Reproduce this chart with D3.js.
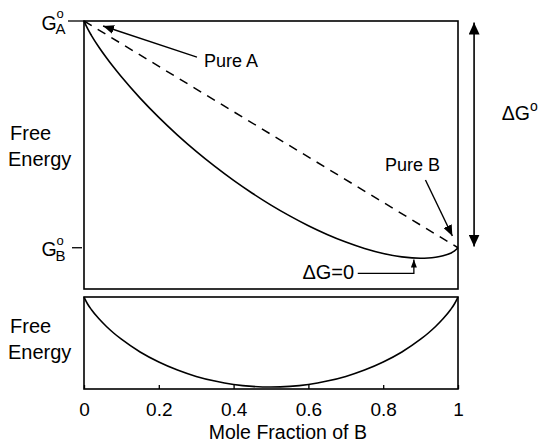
<!DOCTYPE html>
<html>
<head>
<meta charset="utf-8">
<script src="https://cdn.jsdelivr.net/npm/d3@7"></script>
<style>
  html, body { margin: 0; padding: 0; background: #fff; }
  svg { display: block; }
  text { font-family: "Liberation Sans", Arial, Helvetica, sans-serif; fill: #000; }
</style>
</head>
<body>
<svg id="chart" width="541" height="443"></svg>
<script>
// ---- data ----
const moleFraction = [0, 0.01, 0.02, 0.04, 0.06, 0.08, 0.1, 0.15, 0.2, 0.25, 0.3, 0.35, 0.4, 0.45, 0.5,
                      0.55, 0.6, 0.65, 0.7, 0.75, 0.8, 0.85, 0.9, 0.92, 0.94, 0.96, 0.98, 0.99, 1];
// total free energy of the mixture (top panel), G_A = 10, G_B = 0
const freeEnergy = [10, 9.648, 9.359, 8.844, 8.379, 7.945, 7.537, 6.598, 5.748, 4.969, 4.251, 3.587, 2.971, 2.404, 1.881,
                    1.404, 0.971, 0.587, 0.251, -0.031, -0.252, -0.402, -0.463, -0.455, -0.422, -0.356, -0.241, -0.152, 0];
// free energy of mixing (bottom panel)
const mixingEnergy = [0, -0.056, -0.098, -0.168, -0.227, -0.279, -0.325, -0.423, -0.500, -0.562, -0.611, -0.647, -0.673, -0.688, -0.693,
                      -0.688, -0.673, -0.647, -0.611, -0.562, -0.500, -0.423, -0.325, -0.279, -0.227, -0.168, -0.098, -0.056, 0];
const pureEnergies = [10, 0];            // G_A°, G_B°
const xTicks = [0, 0.2, 0.4, 0.6, 0.8, 1];
const xTickLabels = ["0", "0.2", "0.4", "0.6", "0.8", "1"];

const svg = d3.select("#chart");
const font = 20;

// ---- scales ----
const x = d3.scaleLinear().domain([0, 1]).range([84, 458]);
const yTop = d3.scaleLinear().domain([-1.82, 10]).range([289, 21]);
const yBot = d3.scaleLinear().domain([-0.708, 0]).range([389, 297]);

// ---- markers ----
const defs = svg.append("defs");
function marker(id, len, wid) {
  defs.append("marker").attr("id", id)
    .attr("markerUnits", "userSpaceOnUse")
    .attr("viewBox", `0 ${-wid / 2} ${len} ${wid}`)
    .attr("refX", len).attr("refY", 0)
    .attr("markerWidth", len).attr("markerHeight", wid)
    .attr("orient", "auto")
    .append("path").attr("d", `M0,${-wid / 2}L${len},0L0,${wid / 2}Z`).attr("fill", "#000");
}
marker("headBig", 12, 11);
marker("headMed", 11, 9);
marker("headSmall", 8, 6);
defs.append("marker").attr("id", "headBigStart")
  .attr("markerUnits", "userSpaceOnUse")
  .attr("viewBox", "0 -5.5 12 11").attr("refX", 0).attr("refY", 0)
  .attr("markerWidth", 12).attr("markerHeight", 11).attr("orient", "auto")
  .append("path").attr("d", "M12,-5.5L0,0L12,5.5Z").attr("fill", "#000");

// ---- top panel ----
svg.append("rect")
  .attr("x", x(0)).attr("y", yTop(10))
  .attr("width", x(1) - x(0)).attr("height", yTop(-1.82) - yTop(10))
  .attr("fill", "none").attr("stroke", "#000").attr("stroke-width", 1.6);

const pts = moleFraction.map((m, i) => [m, freeEnergy[i]]);
svg.append("path")
  .datum(pts)
  .attr("fill", "none").attr("stroke", "#000").attr("stroke-width", 1.6)
  .attr("d", d3.line().x(d => x(d[0])).y(d => yTop(d[1])).curve(d3.curveMonotoneX));

// ideal (unmixed) line
svg.append("line")
  .attr("x1", x(0)).attr("y1", yTop(pureEnergies[0]))
  .attr("x2", x(1)).attr("y2", yTop(pureEnergies[1]))
  .attr("stroke", "#000").attr("stroke-width", 1.5).attr("stroke-dasharray", "9,7");

// G_A° and G_B° labels with ticks
svg.append("line").attr("x1", x(0) - 16).attr("x2", x(0)).attr("y1", yTop(10)).attr("y2", yTop(10))
  .attr("stroke", "#000").attr("stroke-width", 1.3);
svg.append("line").attr("x1", x(0) - 12).attr("x2", x(0) - 2).attr("y1", yTop(0)).attr("y2", yTop(0))
  .attr("stroke", "#000").attr("stroke-width", 1.3);

function gLabel(yPos, sub, subDy) {
  const g = svg.append("g");
  g.append("text").attr("x", 41.5).attr("y", yPos + 8.5).attr("font-size", 19.5).text("G");
  g.append("text").attr("x", 56.5).attr("y", yPos - 3.2).attr("font-size", 13).text("o");
  g.append("text").attr("x", 55.5).attr("y", yPos + subDy).attr("font-size", 15).text(sub);
}
gLabel(yTop(10), "A", 12.8);
gLabel(yTop(0), "B", 13);

// Free Energy labels
function feLabel(y1) {
  svg.append("text").attr("x", 10).attr("y", y1).attr("font-size", font).text("Free");
  svg.append("text").attr("x", 8).attr("y", y1 + 26).attr("font-size", font).text("Energy");
}
feLabel(140);
feLabel(332.5);

// Pure A annotation
svg.append("line")
  .attr("x1", x(0.302)).attr("y1", yTop(8.41))
  .attr("x2", x(0.051)).attr("y2", yTop(9.78))
  .attr("stroke", "#000").attr("stroke-width", 1.4).attr("marker-end", "url(#headMed)");
svg.append("text").attr("x", x(0.321)).attr("y", yTop(7.99)).attr("font-size", 18).text("Pure A");

// Pure B annotation
svg.append("line")
  .attr("x1", x(0.913)).attr("y1", yTop(2.99))
  .attr("x2", x(0.985)).attr("y2", yTop(0.518))
  .attr("stroke", "#000").attr("stroke-width", 1.4).attr("marker-end", "url(#headMed)");
svg.append("text").attr("x", x(0.805)).attr("y", yTop(3.40)).attr("font-size", 18).text("Pure B");

// ΔG=0 annotation
svg.append("text").attr("x", x(0.584)).attr("y", yTop(-1.40)).attr("font-size", font).text("\u0394G=0");
svg.append("path")
  .attr("d", `M${x(0.732)},${yTop(-1.13)}H${x(0.882)}V${yTop(-0.52)}`)
  .attr("fill", "none").attr("stroke", "#000").attr("stroke-width", 1.3)
  .attr("marker-end", "url(#headSmall)");

// ΔG° double arrow
svg.append("line")
  .attr("x1", x(1.043)).attr("x2", x(1.043))
  .attr("y1", yTop(0.05)).attr("y2", yTop(9.93))
  .attr("stroke", "#000").attr("stroke-width", 1.6)
  .attr("marker-start", "url(#headBigStart)")
  .attr("marker-end", "url(#headBig)");

const dg = svg.append("text").attr("x", x(1.117)).attr("y", yTop(5.63)).attr("font-size", 19.5);
dg.append("tspan").text("\u0394G");
dg.append("tspan").attr("font-size", 14).attr("dy", -9).text("o");

// ---- bottom panel ----
svg.append("rect")
  .attr("x", x(0)).attr("y", yBot(0))
  .attr("width", x(1) - x(0)).attr("height", yBot(-0.708) - yBot(0))
  .attr("fill", "none").attr("stroke", "#000").attr("stroke-width", 1.6);

const pts2 = moleFraction.map((m, i) => [m, mixingEnergy[i]]);
svg.append("path")
  .datum(pts2)
  .attr("fill", "none").attr("stroke", "#000").attr("stroke-width", 1.6)
  .attr("d", d3.line().x(d => x(d[0])).y(d => yBot(d[1])).curve(d3.curveMonotoneX));

// x axis
const axis = d3.axisBottom(x)
  .tickValues(xTicks)
  .tickFormat((d, i) => xTickLabels[i])
  .tickSizeInner(-4).tickSizeOuter(0);
const ax = svg.append("g").attr("transform", `translate(0,${yBot(-0.708)})`).call(axis);
ax.select(".domain").remove();
ax.selectAll(".tick line").attr("stroke", "#000").attr("stroke-width", 1.3);
ax.selectAll(".tick text")
  .attr("font-family", '"Liberation Sans", Arial, sans-serif')
  .attr("font-size", 19).attr("fill", "#000")
  .attr("y", 26.5).attr("dy", 0);

svg.append("text").attr("x", x(0.545)).attr("y", 438.5).attr("text-anchor", "middle")
  .attr("font-size", 19.5).text("Mole Fraction of B");
</script>
</body>
</html>
